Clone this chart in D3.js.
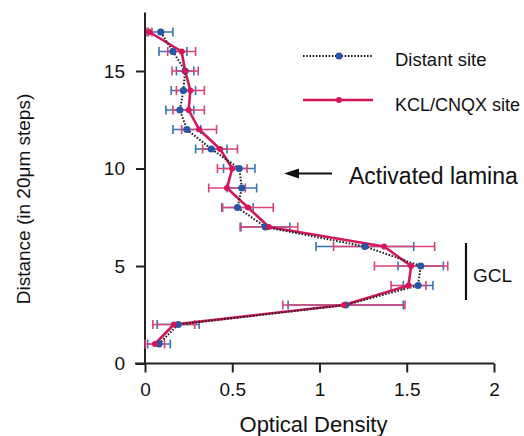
<!DOCTYPE html>
<html>
<head>
<meta charset="utf-8">
<script src="https://cdn.jsdelivr.net/npm/d3@7"></script>
<style>
  body { margin: 0; background: #fff; }
  svg { font-family: "Liberation Sans", Arial, sans-serif; }
</style>
</head>
<body>
<div id="chart"></div>
<script>
// Distance steps (in 20um steps)
const steps = [1, 2, 3, 4, 5, 6, 7, 8, 9, 10, 11, 12, 13, 14, 15, 16, 17];

// Distant site: optical density and error
const distantOD  = [0.08, 0.19, 1.15, 1.565, 1.58, 1.26, 0.69, 0.53, 0.555, 0.54, 0.38, 0.24, 0.20, 0.22, 0.23, 0.16, 0.09];
const distantErr = [0.065, 0.12, 0.33, 0.085, 0.13, 0.28, 0.14, 0.09, 0.085, 0.09, 0.09, 0.08, 0.08, 0.07, 0.05, 0.08, 0.07];

// KCL/CNQX site: optical density and error
const kclOD  = [0.057, 0.165, 1.14, 1.51, 1.525, 1.37, 0.71, 0.59, 0.47, 0.50, 0.43, 0.31, 0.25, 0.26, 0.23, 0.21, 0.025];
const kclErr = [0.055, 0.12, 0.35, 0.10, 0.21, 0.29, 0.165, 0.145, 0.105, 0.085, 0.10, 0.10, 0.09, 0.08, 0.075, 0.08, 0.015];

const xTicks = [0, 0.5, 1, 1.5, 2];
const yTicks = [0, 5, 10, 15];

const W = 524, H = 436;
const blue = "#2358a8", blueBar = "#3d72b4";
const red = "#d3175a", redBar = "#dc4275";

const svg = d3.select("#chart").append("svg")
    .attr("width", W)
    .attr("height", H);

const x = d3.scaleLinear().domain([0, 2]).range([145, 494]);
const y = d3.scaleLinear().domain([0, 18]).range([363.5, 12.5]);

// axes
const xAxis = svg.append("g")
    .attr("transform", `translate(0,${y(0)})`)
    .call(d3.axisBottom(x).tickValues(xTicks).tickFormat(d3.format("")).tickSize(9).tickPadding(10));
xAxis.select(".domain").attr("d", `M${x(0) - 10},0H${x(2)}`);

const yAxis = svg.append("g")
    .attr("transform", `translate(${x(0)},0)`)
    .call(d3.axisLeft(y).tickValues(yTicks).tickSize(9).tickPadding(11));
yAxis.select(".domain").attr("d", `M0,${y(0)}V${y(18)}`);

svg.selectAll(".domain, .tick line")
    .attr("stroke", "#222")
    .attr("stroke-width", 2);
svg.selectAll(".tick text")
    .attr("font-size", 19)
    .attr("fill", "#111")
    .style("font-family", "Liberation Sans, Arial, sans-serif");

// axis titles
svg.append("text")
    .attr("x", (x(0) + x(2)) / 2 - 6)
    .attr("y", 432)
    .attr("text-anchor", "middle")
    .attr("font-size", 22)
    .attr("fill", "#111")
    .text("Optical Density");

svg.append("text")
    .attr("transform", `translate(30,199) rotate(-90)`)
    .attr("text-anchor", "middle")
    .attr("font-size", 19)
    .attr("fill", "#111")
    .text("Distance (in 20\u03bcm steps)");

// series definitions built from the arrays
const distant = steps.map((s, i) => ({ s, v: distantOD[i], e: distantErr[i] }));
const kcl = steps.map((s, i) => ({ s, v: kclOD[i], e: kclErr[i] }));

function errorBars(data, color) {
    const g = svg.append("g")
        .attr("stroke", color)
        .attr("stroke-width", 1.6)
        .attr("fill", "none");
    g.selectAll("path")
        .data(data)
        .enter()
        .append("path")
        .attr("d", d => {
            const x0 = x(Math.max(0, d.v - d.e)), x1 = x(d.v + d.e), yy = y(d.s);
            return `M${x0},${yy - 4.5}V${yy + 4.5}M${x0},${yy}H${x1}M${x1},${yy - 4.5}V${yy + 4.5}`;
        });
}

errorBars(distant, blueBar);
errorBars(kcl, redBar);

const line = d3.line().x(d => x(d.v)).y(d => y(d.s));

// KCL/CNQX line
svg.append("path")
    .datum(kcl)
    .attr("d", line)
    .attr("fill", "none")
    .attr("stroke", red)
    .attr("stroke-width", 2.6)
    .attr("stroke-linejoin", "round");

// Distant line (dotted)
svg.append("path")
    .datum(distant)
    .attr("d", line)
    .attr("fill", "none")
    .attr("stroke", "#222")
    .attr("stroke-width", 2)
    .attr("stroke-dasharray", "1.6,1.6");

svg.append("g").selectAll("circle")
    .data(distant)
    .enter()
    .append("circle")
    .attr("cx", d => x(d.v))
    .attr("cy", d => y(d.s))
    .attr("r", 3.6)
    .attr("fill", blue);

svg.append("g").selectAll("circle")
    .data(kcl)
    .enter()
    .append("circle")
    .attr("cx", d => x(d.v))
    .attr("cy", d => y(d.s))
    .attr("r", 3)
    .attr("fill", red);

// legend
const legend = svg.append("g");
legend.append("line")
    .attr("x1", 303).attr("x2", 373).attr("y1", 56).attr("y2", 56)
    .attr("stroke", "#222").attr("stroke-width", 2).attr("stroke-dasharray", "1.6,1.6");
legend.append("circle").attr("cx", 339).attr("cy", 56).attr("r", 3.6).attr("fill", blue);
legend.append("text").attr("x", 395).attr("y", 66).attr("font-size", 18.5).attr("fill", "#111").text("Distant site");

legend.append("line")
    .attr("x1", 303).attr("x2", 373).attr("y1", 100).attr("y2", 100)
    .attr("stroke", red).attr("stroke-width", 2.4);
legend.append("circle").attr("cx", 339).attr("cy", 100).attr("r", 3).attr("fill", red);
legend.append("text").attr("x", 395).attr("y", 110.5).attr("font-size", 18).attr("fill", "#111").text("KCL/CNQX site");

// annotation: activated lamina
svg.append("line")
    .attr("x1", 296).attr("x2", 332).attr("y1", 173.5).attr("y2", 173.5)
    .attr("stroke", "#111").attr("stroke-width", 2);
svg.append("path")
    .attr("d", "M284,173.5L299,168.5L299,178.5Z")
    .attr("fill", "#111");
svg.append("text")
    .attr("x", 349).attr("y", 183.5)
    .attr("font-size", 23).attr("fill", "#111")
    .text("Activated lamina");

// GCL marker
svg.append("line")
    .attr("x1", 466).attr("x2", 466).attr("y1", 243).attr("y2", 300)
    .attr("stroke", "#111").attr("stroke-width", 2.2);
svg.append("text")
    .attr("x", 473).attr("y", 282)
    .attr("font-size", 19).attr("fill", "#111")
    .text("GCL");
</script>
</body>
</html>
